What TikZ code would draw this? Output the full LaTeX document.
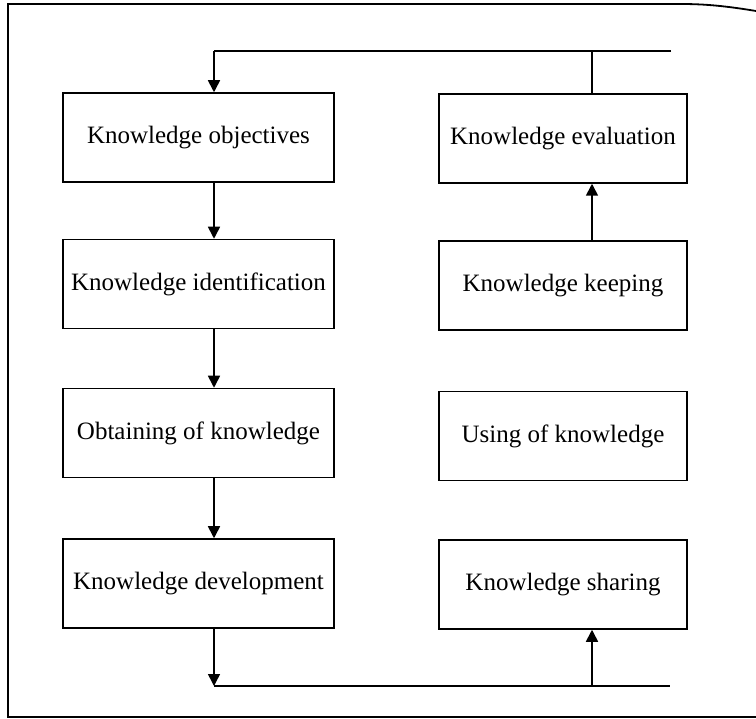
\documentclass[tikz,border=0pt]{standalone}
\usepackage{fontspec}
\setmainfont{Liberation Serif}
\usetikzlibrary{arrows.meta}
\begin{document}
\begin{tikzpicture}[x=1pt,y=-1pt,
  lbox/.style={draw,line width=1.5pt,minimum width=271pt,minimum height=89pt,inner sep=0pt,font=\fontsize{25}{28}\selectfont},
  rbox/.style={draw,line width=1.5pt,minimum width=248pt,minimum height=89pt,inner sep=0pt,font=\fontsize{25}{28}\selectfont},
  conn/.style={line width=1.6pt},
  arr/.style={conn,-{Triangle[width=12pt,length=12pt]}}]
\useasboundingbox (0,0) rectangle (756,719);
% frame
\draw[line width=1.8pt] (756,11) .. controls (720,5) and (700,4) .. (680,4) -- (8,4) -- (8,717) -- (756,717);
% boxes
\node[lbox] (o1) at (198.5,137.5) {Knowledge objectives};
\node[lbox] (o2) at (198.5,284) {Knowledge identification};
\node[lbox] (o3) at (198.5,433) {Obtaining of knowledge};
\node[lbox] (o4) at (198.5,583.5) {Knowledge development};
\node[rbox] (e1) at (563,138.5) {Knowledge evaluation};
\node[rbox] (e2) at (563,285.5) {Knowledge keeping};
\node[rbox] (e3) at (563,436) {Using of knowledge};
\node[rbox] (e4) at (563,584.5) {Knowledge sharing};
% helper coordinates
\coordinate (lx) at (214,0);
\coordinate (rx) at (592,0);
\coordinate (topL) at (214,51);
\coordinate (topR) at (671,51);
\coordinate (topM) at (592,51);
\coordinate (botL) at (214,686);
\coordinate (botR) at (670,686);
\coordinate (botM) at (592,686);
% left column arrows
\draw[arr] (o1.south -| lx) -- (o2.north -| lx);
\draw[arr] (o2.south -| lx) -- (o3.north -| lx);
\draw[arr] (o3.south -| lx) -- (o4.north -| lx);
% right column arrow
\draw[arr] (e2.north -| rx) -- (e1.south -| rx);
% top feedback
\draw[conn] (e1.north -| rx) -- (topM);
\draw[conn] (topR) -- (topL);
\draw[arr] (topL) -- (o1.north -| lx);
% bottom
\draw[arr] (o4.south -| lx) -- (botL);
\draw[conn] (botL) -- (botR);
\draw[arr] (botM) -- (e4.south -| rx);
\end{tikzpicture}
\end{document}
